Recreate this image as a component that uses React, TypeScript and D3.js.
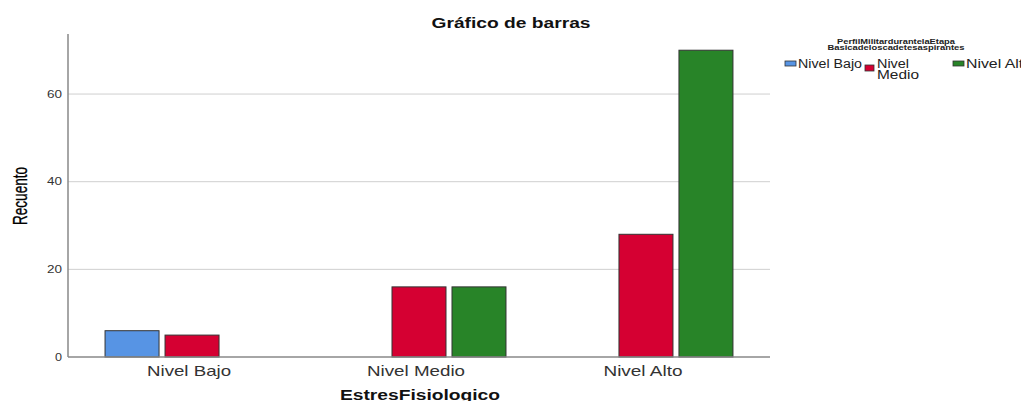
import * as d3 from "d3";

const categories = ["Nivel Bajo", "Nivel Medio", "Nivel Alto"];
const series = ["Nivel Bajo", "Nivel Medio", "Nivel Alto"];
const colors = ["#5794e4", "#d50032", "#288428"];
// counts per category, one array per series (0 = no bar)
const bajoValues = [6, 0, 0];
const medioValues = [5, 16, 28];
const altoValues = [0, 16, 70];
const yTicks = [0, 20, 40, 60];
// rendered label widths (SPSS draws text wide)
const catLabelWidths = [84, 98, 79];

const W = 1021;
const H = 401;
const left = 68;
const right = 770;
const top = 34;
const bottom = 357;

export default function App() {
  const values = [bajoValues, medioValues, altoValues];
  const x0 = d3.scaleBand().domain(categories).range([left, right]).paddingInner(0.207).paddingOuter(0.15);
  const x1 = d3.scaleBand().domain(series).range([0, x0.bandwidth()]).paddingInner(0.1).paddingOuter(0.05);
  const y = d3.scaleLinear().domain([0, 73.7]).range([bottom, top]);
  const font = "'Liberation Sans', Arial, sans-serif";
  const fit = "spacingAndGlyphs";

  return (
    <svg width={W} height={H} style={{ position: "absolute", left: 0, top: 0 }} fontFamily={font}>
      <rect width={W} height={H} fill="#fff" />
      <text x={511} y={28} textAnchor="middle" fontSize={14} fontWeight="bold" fill="#111" textLength={159} lengthAdjust={fit}>
        Gráfico de barras
      </text>
      {yTicks.filter((t) => t > 0).map((t) => (
        <line key={t} x1={left} x2={right} y1={y(t)} y2={y(t)} stroke="#cfcfcf" strokeWidth={1} />
      ))}
      {yTicks.map((t) => (
        <text
          key={t}
          x={62}
          y={y(t) + 3.5}
          textAnchor="end"
          fontSize={10}
          fill="#333"
          textLength={t === 0 ? 7 : 15}
          lengthAdjust={fit}
        >
          {t}
        </text>
      ))}
      <text
        transform={`translate(27,196) rotate(-90)`}
        textAnchor="middle"
        fontSize={20}
        fill="#000"
        stroke="#000"
        strokeWidth={0.3}
        textLength={58}
        lengthAdjust={fit}
      >
        Recuento
      </text>
      {categories.map((c, ci) => (
        <g key={c} transform={`translate(${x0(c)},0)`}>
          {series.map((s, si) => {
            const v = values[si][ci];
            if (!v) return null;
            return (
              <rect
                key={s}
                x={x1(s)}
                y={y(v)}
                width={x1.bandwidth()}
                height={bottom - y(v)}
                fill={colors[si]}
                stroke="#333"
                strokeWidth={1}
              />
            );
          })}
        </g>
      ))}
      <line x1={left} x2={left} y1={top} y2={bottom} stroke="#888" strokeWidth={1.5} />
      <line x1={left} x2={right} y1={bottom} y2={bottom} stroke="#888" strokeWidth={1.5} />
      {categories.map((c, ci) => (
        <text
          key={c}
          x={(x0(c) ?? 0) + x0.bandwidth() / 2 - 3}
          y={376}
          textAnchor="middle"
          fontSize={14.5}
          fill="#333"
          textLength={catLabelWidths[ci]}
          lengthAdjust={fit}
        >
          {c}
        </text>
      ))}
      <text x={420} y={400} textAnchor="middle" fontSize={14} fontWeight="bold" fill="#111" textLength={160} lengthAdjust={fit}>
        EstresFisiologico
      </text>
      <g fontSize={7} fontWeight="bold" textAnchor="middle" fill="#222">
        <text x={896} y={44} textLength={118} lengthAdjust={fit}>PerfilMilitardurantelaEtapa</text>
        <text x={896} y={50} textLength={137} lengthAdjust={fit}>Basicadeloscadetesaspirantes</text>
      </g>
      <g fontSize={12} fill="#222">
        <rect x={785} y={61} width={11} height={5} fill={colors[0]} stroke="#333" strokeWidth={0.8} />
        <text x={798} y={68} textLength={64} lengthAdjust={fit}>{series[0]}</text>
        <rect x={865} y={65} width={9} height={6} fill={colors[1]} stroke="#333" strokeWidth={0.8} />
        <text x={877} y={68} textLength={32} lengthAdjust={fit}>Nivel</text>
        <text x={877} y={79} textLength={42} lengthAdjust={fit}>Medio</text>
        <rect x={953} y={61} width={11} height={5} fill={colors[2]} stroke="#333" strokeWidth={0.8} />
        <text x={966} y={68} textLength={66} lengthAdjust={fit}>{series[2]}</text>
      </g>
    </svg>
  );
}
